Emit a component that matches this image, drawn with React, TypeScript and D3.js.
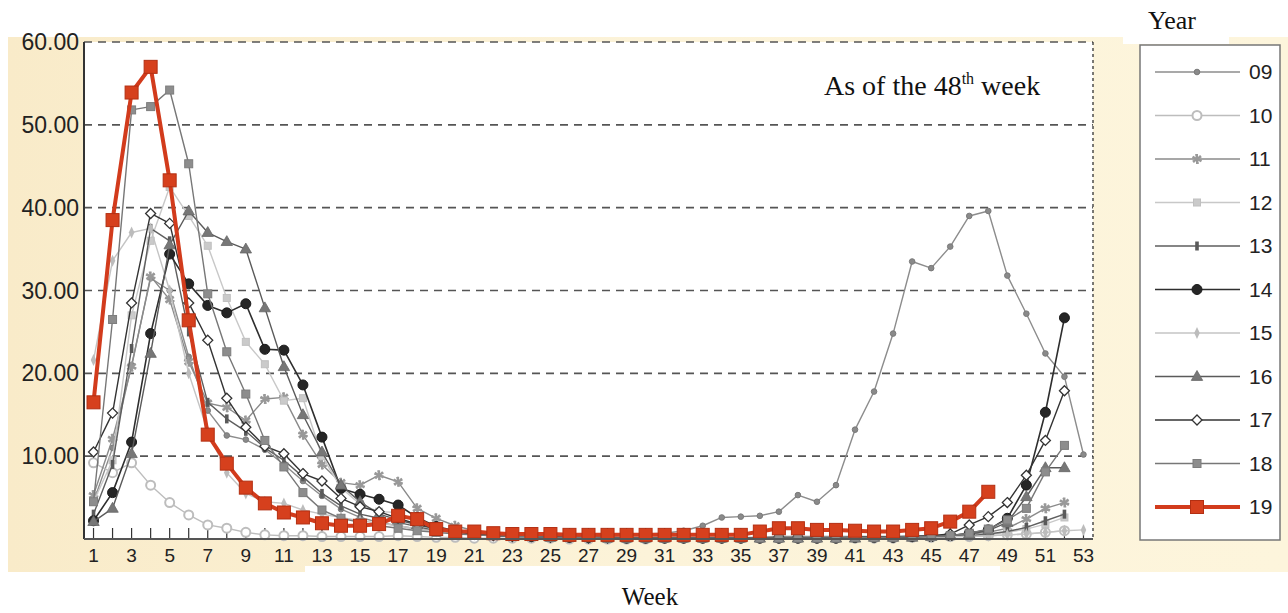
import React from "react";
import * as d3 from "d3";

const weeks53 = d3.range(1, 54);
const xTickLabels = d3.range(1, 54, 2);
const yTickValues = [10, 20, 30, 40, 50, 60];
const seriesNames = ["09", "10", "11", "12", "13", "14", "15", "16", "17", "18", "19"];

const y09 = [4.5, 11.0, 21.0, 31.5, 30.0, 22.0, 15.5, 12.5, 12.0, 10.8,
  9.0, 7.0, 5.2, 3.6, 2.6, 2.0, 1.6, 1.2, 1.0, 0.8,
  0.7, 0.6, 0.5, 0.5, 0.4, 0.4, 0.4, 0.5, 0.5, 0.6,
  0.7, 1.0, 1.6, 2.6, 2.7, 2.8, 3.3, 5.3, 4.5, 6.5,
  13.2, 17.8, 24.8, 33.5, 32.7, 35.3, 39.0, 39.6, 31.8, 27.2,
  22.4, 19.6, 10.2];
const y10 = [9.2, 8.0, 9.2, 6.5, 4.4, 2.9, 1.7, 1.3, 0.8, 0.5,
  0.4, 0.4, 0.3, 0.3, 0.3, 0.3, 0.4, 0.3, 0.2, 0.2,
  0.1, 0.1, 0.1, 0.1, 0.1, 0.0, 0.0, 0.0, 0.0, 0.0,
  0.1, 0.1, 0.1, 0.1, 0.1, 0.1, 0.1, 0.1, 0.1, 0.1,
  0.1, 0.1, 0.1, 0.2, 0.2, 0.3, 0.3, 0.4, 0.5, 0.6,
  0.8, 1.0];
const y11 = [5.3, 12.1, 20.8, 31.7, 28.9, 21.4, 16.4, 15.9, 14.3, 16.9,
  17.1, 12.6, 9.0, 6.8, 6.5, 7.7, 6.9, 3.7, 2.5, 1.6,
  1.0, 0.7, 0.5, 0.4, 0.3, 0.3, 0.2, 0.2, 0.2, 0.2,
  0.2, 0.2, 0.2, 0.2, 0.2, 0.2, 0.3, 0.3, 0.3, 0.3,
  0.3, 0.3, 0.3, 0.4, 0.4, 0.5, 0.6, 0.8, 1.3, 2.4,
  3.7, 4.4];
const y12 = [4.5, 9.5, 27.0, 36.0, 42.5, 39.0, 35.4, 29.1, 23.8, 21.1,
  16.7, 17.0, 10.0, 6.2, 4.2, 3.3, 3.2, 2.0, 1.3, 0.9,
  0.6, 0.5, 0.4, 0.3, 0.3, 0.2, 0.2, 0.2, 0.1, 0.1,
  0.1, 0.1, 0.1, 0.1, 0.1, 0.1, 0.1, 0.1, 0.1, 0.1,
  0.1, 0.2, 0.2, 0.2, 0.3, 0.3, 0.4, 0.5, 0.8, 1.2,
  1.8, 2.6];
const y13 = [3.0, 9.0, 23.0, 37.5, 36.0, 25.0, 16.5, 14.5, 13.0, 11.0,
  9.5, 7.5, 5.5, 4.0, 3.0, 2.5, 2.0, 1.5, 1.0, 0.8,
  0.6, 0.5, 0.4, 0.3, 0.3, 0.2, 0.2, 0.2, 0.2, 0.1,
  0.1, 0.1, 0.1, 0.1, 0.1, 0.1, 0.1, 0.1, 0.1, 0.1,
  0.1, 0.2, 0.2, 0.2, 0.2, 0.3, 0.4, 0.6, 0.9, 1.4,
  2.2, 3.0];
const y14 = [2.2, 5.6, 11.7, 24.8, 34.4, 30.8, 28.2, 27.3, 28.4, 22.9,
  22.8, 18.6, 12.3, 6.1, 5.4, 4.8, 4.1, 2.6, 1.5, 1.0,
  0.7, 0.5, 0.4, 0.3, 0.3, 0.2, 0.2, 0.2, 0.1, 0.1,
  0.1, 0.1, 0.1, 0.1, 0.1, 0.1, 0.1, 0.1, 0.1, 0.1,
  0.2, 0.2, 0.2, 0.3, 0.3, 0.4, 0.7, 1.1, 2.5, 6.5,
  15.3, 26.7];
const y15 = [21.6, 33.6, 37.0, 37.5, 30.0, 20.0, 13.0, 8.0, 5.5, 4.5,
  4.3, 3.5, 3.0, 2.6, 2.2, 1.9, 1.6, 1.2, 0.9, 0.7,
  0.5, 0.4, 0.3, 0.3, 0.2, 0.2, 0.2, 0.1, 0.1, 0.1,
  0.1, 0.1, 0.1, 0.1, 0.1, 0.1, 0.1, 0.1, 0.1, 0.1,
  0.1, 0.1, 0.2, 0.2, 0.2, 0.3, 0.3, 0.4, 0.5, 0.6,
  0.8, 1.0, 1.1];
const y16 = [2.1, 3.7, 10.3, 22.4, 35.5, 39.6, 37.0, 35.9, 35.0, 27.9,
  20.8, 15.0, 10.5, 6.5, 4.5, 3.0, 2.3, 1.7, 1.2, 0.9,
  0.6, 0.4, 0.3, 0.3, 0.2, 0.2, 0.2, 0.1, 0.1, 0.1,
  0.1, 0.1, 0.1, 0.1, 0.1, 0.1, 0.1, 0.1, 0.1, 0.1,
  0.1, 0.2, 0.2, 0.2, 0.3, 0.4, 0.6, 1.0, 2.0, 5.1,
  8.6, 8.6];
const y17 = [10.5, 15.2, 28.5, 39.3, 38.1, 28.5, 24.0, 17.0, 13.5, 11.2,
  10.3, 7.9, 7.0, 4.9, 3.9, 3.3, 2.5, 1.8, 1.3, 0.9,
  0.6, 0.4, 0.3, 0.3, 0.2, 0.2, 0.1, 0.1, 0.1, 0.1,
  0.1, 0.1, 0.1, 0.1, 0.1, 0.1, 0.1, 0.1, 0.1, 0.1,
  0.2, 0.2, 0.2, 0.3, 0.4, 0.6, 1.7, 2.7, 4.4, 7.7,
  11.9, 17.9];
const y18 = [4.5, 26.5, 51.8, 52.2, 54.2, 45.3, 29.6, 22.6, 17.5, 11.9,
  8.7, 5.6, 3.5, 2.5, 2.0, 1.6, 1.3, 1.0, 0.8, 0.6,
  0.5, 0.4, 0.3, 0.3, 0.2, 0.2, 0.2, 0.1, 0.1, 0.1,
  0.1, 0.1, 0.1, 0.1, 0.1, 0.1, 0.1, 0.1, 0.1, 0.1,
  0.2, 0.2, 0.2, 0.3, 0.3, 0.4, 0.7, 1.2, 2.3, 3.7,
  8.1, 11.3];
const y19 = [16.5, 38.5, 53.9, 57.0, 43.3, 26.4, 12.6, 9.1, 6.2, 4.3,
  3.2, 2.6, 1.9, 1.6, 1.6, 1.8, 2.8, 2.4, 1.2, 0.9,
  0.9, 0.7, 0.6, 0.6, 0.6, 0.5, 0.5, 0.5, 0.5, 0.5,
  0.5, 0.5, 0.5, 0.5, 0.5, 0.9, 1.3, 1.3, 1.1, 1.1,
  1.0, 0.9, 0.9, 1.1, 1.3, 2.1, 3.3, 5.7];

const seriesValues = [y09, y10, y11, y12, y13, y14, y15, y16, y17, y18, y19];

type Style = { line: string; width: number; marker: string; fill: string; stroke: string; size: number };
const styles: Style[] = [
  { line: "#8c8c8c", width: 1.4, marker: "circle", fill: "#8a8a8a", stroke: "#7a7a7a", size: 2.8 },
  { line: "#bdbdbd", width: 1.4, marker: "opencircle", fill: "#ffffff", stroke: "#bdbdbd", size: 4.5 },
  { line: "#8a8a8a", width: 1.4, marker: "asterisk", fill: "#999", stroke: "#999999", size: 6 },
  { line: "#c8c8c8", width: 1.4, marker: "square", fill: "#cacaca", stroke: "#c0c0c0", size: 7 },
  { line: "#5e5e5e", width: 1.4, marker: "bar", fill: "#5a5a5a", stroke: "#5a5a5a", size: 9 },
  { line: "#2e2e2e", width: 1.6, marker: "circle", fill: "#262626", stroke: "#1a1a1a", size: 5 },
  { line: "#c4c4c4", width: 1.4, marker: "narrowdiamond", fill: "#bcbcbc", stroke: "#b5b5b5", size: 6 },
  { line: "#5a5a5a", width: 1.4, marker: "triangle", fill: "#777", stroke: "#666666", size: 6 },
  { line: "#333333", width: 1.4, marker: "opendiamond", fill: "#ffffff", stroke: "#333333", size: 5 },
  { line: "#777777", width: 1.4, marker: "square", fill: "#8d8d8d", stroke: "#7d7d7d", size: 8 },
  { line: "#d23b1c", width: 4, marker: "square", fill: "#d6401d", stroke: "#b32f12", size: 13 },
];

function Marker({ kind, x, y, st }: { kind: string; x: number; y: number; st: Style }) {
  const s = st.size;
  switch (kind) {
    case "circle":
      return <circle cx={x} cy={y} r={s} fill={st.fill} stroke={st.stroke} strokeWidth={1} />;
    case "opencircle":
      return <circle cx={x} cy={y} r={s} fill="#fff" stroke={st.stroke} strokeWidth={2} />;
    case "square":
      return <rect x={x - s / 2} y={y - s / 2} width={s} height={s} fill={st.fill} stroke={st.stroke} strokeWidth={1} />;
    case "bar":
      return <rect x={x - 1.8} y={y - s / 2} width={3.6} height={s} fill={st.fill} />;
    case "triangle":
      return <path d={`M${x},${y - s}L${x + s * 0.95},${y + s * 0.65}L${x - s * 0.95},${y + s * 0.65}Z`} fill={st.fill} stroke={st.stroke} strokeWidth={0.8} />;
    case "narrowdiamond":
      return <path d={`M${x},${y - s}L${x + 2.8},${y}L${x},${y + s}L${x - 2.8},${y}Z`} fill={st.fill} />;
    case "opendiamond":
      return <path d={`M${x},${y - s}L${x + s},${y}L${x},${y + s}L${x - s},${y}Z`} fill="#fff" stroke={st.stroke} strokeWidth={1.3} />;
    case "asterisk": {
      const p = d3.symbol(d3.symbolAsterisk, 70)() || "";
      return <g transform={`translate(${x},${y})`}>
        <path d={p} stroke={st.stroke} strokeWidth={2} fill="none" />
        <path d={p} transform="rotate(45)" stroke={st.stroke} strokeWidth={1.5} fill="none" />
      </g>;
    }
    default:
      return null;
  }
}

export default function App() {
  const W = 1288, H = 613;
  const x = d3.scaleLinear().domain([0.5, 53.5]).range([84, 1093]);
  const y = d3.scaleLinear().domain([0, 60]).range([539, 42]);
  const line = d3.line<number>().x((_, i) => x(weeks53[i])).y((v) => y(v));

  const legendY = d3.scaleLinear().domain([0, 10]).range([72, 507]);
  const sans = "Liberation Sans, Arial, sans-serif";
  const serif = "Liberation Serif, Times New Roman, serif";

  return (
    <svg width={W} height={H} style={{ position: "absolute", left: 0, top: 0 }}>
      <defs>
        <linearGradient id="cream" x1="0" x2="1" y1="0" y2="0">
          <stop offset="0" stopColor="#f9ebc9" />
          <stop offset="0.5" stopColor="#fcf3d9" />
          <stop offset="1" stopColor="#fdf5dc" />
        </linearGradient>
      </defs>
      <rect x={0} y={0} width={W} height={H} fill="#ffffff" />
      <rect x={8} y={37} width={1280} height={535} fill="url(#cream)" />
      <rect x={305} y={566} width={695} height={47} fill="#ffffff" />
      <rect x={1123} y={0} width={106} height={44} fill="#ffffff" />

      {/* plot area */}
      <rect x={x(0.5)} y={y(60)} width={x(53.5) - x(0.5)} height={y(0) - y(60)} fill="#ffffff" />

      {/* grid */}
      {yTickValues.map((v) => (
        <line key={v} x1={x(0.5)} x2={x(53.5)} y1={y(v)} y2={y(v)} stroke="#555" strokeWidth={1.6} strokeDasharray="8,6" />
      ))}
      <line x1={x(53.5)} x2={x(53.5)} y1={y(60)} y2={y(0)} stroke="#333" strokeWidth={1.3} strokeDasharray="3,3" />

      {/* y labels */}
      {yTickValues.map((v) => (
        <text key={v} x={79} y={y(v) + 8} textAnchor="end" fontFamily={sans} fontSize={23} fill="#222">
          {d3.format(".2f")(v)}
        </text>
      ))}

      {/* x ticks */}
      {weeks53.map((w) => (
        <line key={w} x1={x(w)} x2={x(w)} y1={y(0)} y2={y(0) - 11} stroke="#333" strokeWidth={1.2} />
      ))}
      {xTickLabels.map((w) => (
        <text key={w} x={x(w)} y={562} textAnchor="middle" fontFamily={sans} fontSize={19} fill="#222">
          {w}
        </text>
      ))}

      {/* series */}
      {seriesValues.map((vals, si) => {
        const st = styles[si];
        return (
          <g key={si}>
            <path d={line(vals) || ""} fill="none" stroke={st.line} strokeWidth={st.width} strokeLinejoin="round" />
            {vals.map((v, i) => (
              <Marker key={i} kind={st.marker} x={x(weeks53[i])} y={y(v)} st={st} />
            ))}
          </g>
        );
      })}

      {/* axes */}
      <line x1={x(0.5)} x2={x(0.5)} y1={y(60)} y2={y(0)} stroke="#333" strokeWidth={2} />
      <line x1={x(0.5)} x2={x(53.5)} y1={y(0)} y2={y(0)} stroke="#555" strokeWidth={2} />

      {/* annotation */}
      <text x={824} y={95} fontFamily={serif} fontSize={28} fill="#111">
        As of the 48<tspan fontSize={16} dy={-11}>th</tspan><tspan dy={11}> week</tspan>
      </text>

      {/* legend */}
      <text x={1172} y={29} textAnchor="middle" fontFamily={serif} fontSize={26} fill="#111">Year</text>
      <rect x={1140} y={45} width={140} height={495} fill="#ffffff" stroke="#777" strokeWidth={1.5} />
      {seriesNames.map((name, si) => {
        const st = styles[si];
        const ly = legendY(si);
        return (
          <g key={name}>
            <line x1={1155} x2={1240} y1={ly} y2={ly} stroke={st.line} strokeWidth={st.width} />
            <Marker kind={st.marker} x={1197} y={ly} st={st} />
            <text x={1249} y={ly + 7} fontFamily={sans} fontSize={21} fill="#222">{name}</text>
          </g>
        );
      })}

      <text x={650} y={605} textAnchor="middle" fontFamily={serif} fontSize={25} fill="#111">Week</text>
    </svg>
  );
}
